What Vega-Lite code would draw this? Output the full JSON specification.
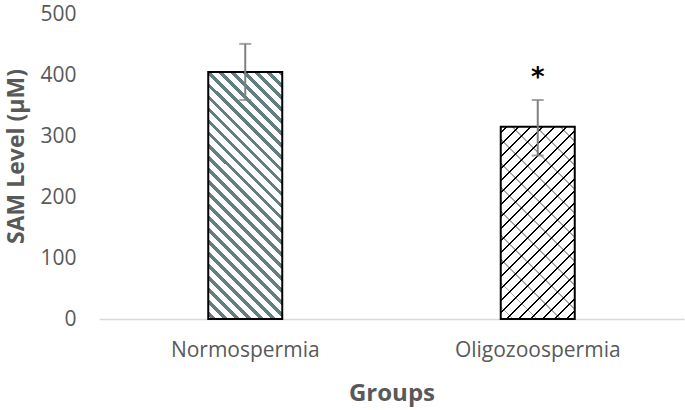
{
  "$schema": "https://vega.github.io/schema/vega-lite/v6.json",
  "width": 585,
  "height": 305,
  "autosize": "none",
  "padding": {"left": 99, "top": 14, "right": 1, "bottom": 91},
  "background": "white",
  "config": {
    "view": {"stroke": null},
    "font": "Open Sans",
    "axis": {"labelFont": "Open Sans", "titleFont": "Open Sans", "labelColor": "#595959", "titleColor": "#595959"}
  },
  "data": {
    "values": [
      {"group": "Normospermia", "sam": 405, "lower": 359, "upper": 451, "sig": ""},
      {"group": "Oligozoospermia", "sam": 315, "lower": 268, "upper": 359, "sig": "*"}
    ]
  },
  "encoding": {
    "x": {
      "field": "group", "type": "nominal", "sort": null,
      "scale": {"paddingInner": 0, "paddingOuter": 0},
      "axis": {"title": "Groups", "labelAngle": 0, "labelFontSize": 21, "labelPadding": 20, "ticks": false, "domainColor": "#D9D9D9", "domainWidth": 1.5, "titleFontSize": 24, "titleFontWeight": "bold", "titlePadding": 21}
    }
  },
  "layer": [
    {
      "transform": [{"filter": "datum.group === 'Normospermia'"}],
      "mark": {"type": "bar", "width": 74, "stroke": "black", "strokeWidth": 2,
        "fill": {"gradient": "linear", "x1": 0, "y1": 1, "x2": 0.357, "y2": -0.1925, "stops": [
          {"offset": 0, "color": "white"},
          {"offset": 0.01, "color": "white"}, {"offset": 0.01, "color": "#637F7F"}, {"offset": 0.025, "color": "#637F7F"}, {"offset": 0.025, "color": "white"},
          {"offset": 0.0475, "color": "white"}, {"offset": 0.0475, "color": "#637F7F"}, {"offset": 0.0625, "color": "#637F7F"}, {"offset": 0.0625, "color": "white"},
          {"offset": 0.085, "color": "white"}, {"offset": 0.085, "color": "#637F7F"}, {"offset": 0.1, "color": "#637F7F"}, {"offset": 0.1, "color": "white"},
          {"offset": 0.1225, "color": "white"}, {"offset": 0.1225, "color": "#637F7F"}, {"offset": 0.1375, "color": "#637F7F"}, {"offset": 0.1375, "color": "white"},
          {"offset": 0.16, "color": "white"}, {"offset": 0.16, "color": "#637F7F"}, {"offset": 0.175, "color": "#637F7F"}, {"offset": 0.175, "color": "white"},
          {"offset": 0.1975, "color": "white"}, {"offset": 0.1975, "color": "#637F7F"}, {"offset": 0.2125, "color": "#637F7F"}, {"offset": 0.2125, "color": "white"},
          {"offset": 0.235, "color": "white"}, {"offset": 0.235, "color": "#637F7F"}, {"offset": 0.25, "color": "#637F7F"}, {"offset": 0.25, "color": "white"},
          {"offset": 0.2725, "color": "white"}, {"offset": 0.2725, "color": "#637F7F"}, {"offset": 0.2875, "color": "#637F7F"}, {"offset": 0.2875, "color": "white"},
          {"offset": 0.31, "color": "white"}, {"offset": 0.31, "color": "#637F7F"}, {"offset": 0.325, "color": "#637F7F"}, {"offset": 0.325, "color": "white"},
          {"offset": 0.3475, "color": "white"}, {"offset": 0.3475, "color": "#637F7F"}, {"offset": 0.3625, "color": "#637F7F"}, {"offset": 0.3625, "color": "white"},
          {"offset": 0.385, "color": "white"}, {"offset": 0.385, "color": "#637F7F"}, {"offset": 0.4, "color": "#637F7F"}, {"offset": 0.4, "color": "white"},
          {"offset": 0.4225, "color": "white"}, {"offset": 0.4225, "color": "#637F7F"}, {"offset": 0.4375, "color": "#637F7F"}, {"offset": 0.4375, "color": "white"},
          {"offset": 0.46, "color": "white"}, {"offset": 0.46, "color": "#637F7F"}, {"offset": 0.475, "color": "#637F7F"}, {"offset": 0.475, "color": "white"},
          {"offset": 0.4975, "color": "white"}, {"offset": 0.4975, "color": "#637F7F"}, {"offset": 0.5125, "color": "#637F7F"}, {"offset": 0.5125, "color": "white"},
          {"offset": 0.535, "color": "white"}, {"offset": 0.535, "color": "#637F7F"}, {"offset": 0.55, "color": "#637F7F"}, {"offset": 0.55, "color": "white"},
          {"offset": 0.5725, "color": "white"}, {"offset": 0.5725, "color": "#637F7F"}, {"offset": 0.5875, "color": "#637F7F"}, {"offset": 0.5875, "color": "white"},
          {"offset": 0.61, "color": "white"}, {"offset": 0.61, "color": "#637F7F"}, {"offset": 0.625, "color": "#637F7F"}, {"offset": 0.625, "color": "white"},
          {"offset": 0.6475, "color": "white"}, {"offset": 0.6475, "color": "#637F7F"}, {"offset": 0.6625, "color": "#637F7F"}, {"offset": 0.6625, "color": "white"},
          {"offset": 0.685, "color": "white"}, {"offset": 0.685, "color": "#637F7F"}, {"offset": 0.7, "color": "#637F7F"}, {"offset": 0.7, "color": "white"},
          {"offset": 0.7225, "color": "white"}, {"offset": 0.7225, "color": "#637F7F"}, {"offset": 0.7375, "color": "#637F7F"}, {"offset": 0.7375, "color": "white"},
          {"offset": 0.76, "color": "white"}, {"offset": 0.76, "color": "#637F7F"}, {"offset": 0.775, "color": "#637F7F"}, {"offset": 0.775, "color": "white"},
          {"offset": 0.7975, "color": "white"}, {"offset": 0.7975, "color": "#637F7F"}, {"offset": 0.8125, "color": "#637F7F"}, {"offset": 0.8125, "color": "white"},
          {"offset": 0.835, "color": "white"}, {"offset": 0.835, "color": "#637F7F"}, {"offset": 0.85, "color": "#637F7F"}, {"offset": 0.85, "color": "white"},
          {"offset": 0.8725, "color": "white"}, {"offset": 0.8725, "color": "#637F7F"}, {"offset": 0.8875, "color": "#637F7F"}, {"offset": 0.8875, "color": "white"},
          {"offset": 0.91, "color": "white"}, {"offset": 0.91, "color": "#637F7F"}, {"offset": 0.925, "color": "#637F7F"}, {"offset": 0.925, "color": "white"},
          {"offset": 0.9475, "color": "white"}, {"offset": 0.9475, "color": "#637F7F"}, {"offset": 0.9625, "color": "#637F7F"}, {"offset": 0.9625, "color": "white"},
          {"offset": 0.985, "color": "white"}, {"offset": 0.985, "color": "#637F7F"}, {"offset": 1, "color": "#637F7F"}
        ]}},
      "encoding": {
        "y": {
          "field": "sam", "type": "quantitative",
          "scale": {"domain": [0, 500]},
          "axis": {"title": "SAM Level (µM)", "values": [0, 100, 200, 300, 400, 500], "grid": false, "domain": false, "ticks": false, "labelFontSize": 21, "labelPadding": 23, "titleFontSize": 23, "titleFontWeight": "bold", "titleX": -83, "titleY": 142, "titleAlign": "center", "titleBaseline": "middle", "titleAngle": -90}
        }
      }
    },
    {
      "transform": [{"filter": "datum.group === 'Oligozoospermia'"}],
      "mark": {"type": "bar", "width": 74,
        "fill": {"gradient": "linear", "x1": 0, "y1": 0, "x2": 0.4644, "y2": 1.2062, "stops": [
          {"offset": 0, "color": "white"},
          {"offset": 0.02, "color": "white"}, {"offset": 0.02, "color": "black"}, {"offset": 0.027, "color": "black"}, {"offset": 0.027, "color": "white"},
          {"offset": 0.065, "color": "white"}, {"offset": 0.065, "color": "black"}, {"offset": 0.072, "color": "black"}, {"offset": 0.072, "color": "white"},
          {"offset": 0.11, "color": "white"}, {"offset": 0.11, "color": "black"}, {"offset": 0.117, "color": "black"}, {"offset": 0.117, "color": "white"},
          {"offset": 0.155, "color": "white"}, {"offset": 0.155, "color": "black"}, {"offset": 0.162, "color": "black"}, {"offset": 0.162, "color": "white"},
          {"offset": 0.2, "color": "white"}, {"offset": 0.2, "color": "black"}, {"offset": 0.207, "color": "black"}, {"offset": 0.207, "color": "white"},
          {"offset": 0.245, "color": "white"}, {"offset": 0.245, "color": "black"}, {"offset": 0.252, "color": "black"}, {"offset": 0.252, "color": "white"},
          {"offset": 0.29, "color": "white"}, {"offset": 0.29, "color": "black"}, {"offset": 0.297, "color": "black"}, {"offset": 0.297, "color": "white"},
          {"offset": 0.335, "color": "white"}, {"offset": 0.335, "color": "black"}, {"offset": 0.342, "color": "black"}, {"offset": 0.342, "color": "white"},
          {"offset": 0.38, "color": "white"}, {"offset": 0.38, "color": "black"}, {"offset": 0.387, "color": "black"}, {"offset": 0.387, "color": "white"},
          {"offset": 0.425, "color": "white"}, {"offset": 0.425, "color": "black"}, {"offset": 0.432, "color": "black"}, {"offset": 0.432, "color": "white"},
          {"offset": 0.47, "color": "white"}, {"offset": 0.47, "color": "black"}, {"offset": 0.477, "color": "black"}, {"offset": 0.477, "color": "white"},
          {"offset": 0.515, "color": "white"}, {"offset": 0.515, "color": "black"}, {"offset": 0.522, "color": "black"}, {"offset": 0.522, "color": "white"},
          {"offset": 0.56, "color": "white"}, {"offset": 0.56, "color": "black"}, {"offset": 0.567, "color": "black"}, {"offset": 0.567, "color": "white"},
          {"offset": 0.605, "color": "white"}, {"offset": 0.605, "color": "black"}, {"offset": 0.612, "color": "black"}, {"offset": 0.612, "color": "white"},
          {"offset": 0.65, "color": "white"}, {"offset": 0.65, "color": "black"}, {"offset": 0.657, "color": "black"}, {"offset": 0.657, "color": "white"},
          {"offset": 0.695, "color": "white"}, {"offset": 0.695, "color": "black"}, {"offset": 0.702, "color": "black"}, {"offset": 0.702, "color": "white"},
          {"offset": 0.74, "color": "white"}, {"offset": 0.74, "color": "black"}, {"offset": 0.747, "color": "black"}, {"offset": 0.747, "color": "white"},
          {"offset": 0.785, "color": "white"}, {"offset": 0.785, "color": "black"}, {"offset": 0.792, "color": "black"}, {"offset": 0.792, "color": "white"},
          {"offset": 0.83, "color": "white"}, {"offset": 0.83, "color": "black"}, {"offset": 0.837, "color": "black"}, {"offset": 0.837, "color": "white"},
          {"offset": 0.875, "color": "white"}, {"offset": 0.875, "color": "black"}, {"offset": 0.882, "color": "black"}, {"offset": 0.882, "color": "white"},
          {"offset": 0.92, "color": "white"}, {"offset": 0.92, "color": "black"}, {"offset": 0.927, "color": "black"}, {"offset": 0.927, "color": "white"},
          {"offset": 0.965, "color": "white"}, {"offset": 0.965, "color": "black"}, {"offset": 0.972, "color": "black"}, {"offset": 0.972, "color": "white"},
          {"offset": 1, "color": "white"}
        ]}},
      "encoding": {"y": {"field": "sam", "type": "quantitative"}}
    },
    {
      "transform": [{"filter": "datum.group === 'Oligozoospermia'"}],
      "mark": {"type": "bar", "width": 74, "stroke": "black", "strokeWidth": 2,
        "fill": {"gradient": "linear", "x1": 0, "y1": 1, "x2": 0.4644, "y2": -0.2062, "stops": [
          {"offset": 0, "color": "rgba(0,0,0,0)"},
          {"offset": 0.0425, "color": "rgba(0,0,0,0)"}, {"offset": 0.0425, "color": "rgba(0,0,0,0.35)"}, {"offset": 0.0495, "color": "rgba(0,0,0,0.35)"}, {"offset": 0.0495, "color": "rgba(0,0,0,0)"},
          {"offset": 0.1325, "color": "rgba(0,0,0,0)"}, {"offset": 0.1325, "color": "rgba(0,0,0,0.35)"}, {"offset": 0.1395, "color": "rgba(0,0,0,0.35)"}, {"offset": 0.1395, "color": "rgba(0,0,0,0)"},
          {"offset": 0.2225, "color": "rgba(0,0,0,0)"}, {"offset": 0.2225, "color": "rgba(0,0,0,0.35)"}, {"offset": 0.2295, "color": "rgba(0,0,0,0.35)"}, {"offset": 0.2295, "color": "rgba(0,0,0,0)"},
          {"offset": 0.3125, "color": "rgba(0,0,0,0)"}, {"offset": 0.3125, "color": "rgba(0,0,0,0.35)"}, {"offset": 0.3195, "color": "rgba(0,0,0,0.35)"}, {"offset": 0.3195, "color": "rgba(0,0,0,0)"},
          {"offset": 0.4025, "color": "rgba(0,0,0,0)"}, {"offset": 0.4025, "color": "rgba(0,0,0,0.35)"}, {"offset": 0.4095, "color": "rgba(0,0,0,0.35)"}, {"offset": 0.4095, "color": "rgba(0,0,0,0)"},
          {"offset": 0.4925, "color": "rgba(0,0,0,0)"}, {"offset": 0.4925, "color": "rgba(0,0,0,0.35)"}, {"offset": 0.4995, "color": "rgba(0,0,0,0.35)"}, {"offset": 0.4995, "color": "rgba(0,0,0,0)"},
          {"offset": 0.5825, "color": "rgba(0,0,0,0)"}, {"offset": 0.5825, "color": "rgba(0,0,0,0.35)"}, {"offset": 0.5895, "color": "rgba(0,0,0,0.35)"}, {"offset": 0.5895, "color": "rgba(0,0,0,0)"},
          {"offset": 0.6725, "color": "rgba(0,0,0,0)"}, {"offset": 0.6725, "color": "rgba(0,0,0,0.35)"}, {"offset": 0.6795, "color": "rgba(0,0,0,0.35)"}, {"offset": 0.6795, "color": "rgba(0,0,0,0)"},
          {"offset": 0.7625, "color": "rgba(0,0,0,0)"}, {"offset": 0.7625, "color": "rgba(0,0,0,0.35)"}, {"offset": 0.7695, "color": "rgba(0,0,0,0.35)"}, {"offset": 0.7695, "color": "rgba(0,0,0,0)"},
          {"offset": 0.8525, "color": "rgba(0,0,0,0)"}, {"offset": 0.8525, "color": "rgba(0,0,0,0.35)"}, {"offset": 0.8595, "color": "rgba(0,0,0,0.35)"}, {"offset": 0.8595, "color": "rgba(0,0,0,0)"},
          {"offset": 0.9425, "color": "rgba(0,0,0,0)"}, {"offset": 0.9425, "color": "rgba(0,0,0,0.35)"}, {"offset": 0.9495, "color": "rgba(0,0,0,0.35)"}, {"offset": 0.9495, "color": "rgba(0,0,0,0)"},
          {"offset": 1, "color": "rgba(0,0,0,0)"}
        ]}},
      "encoding": {"y": {"field": "sam", "type": "quantitative"}}
    },
    {
      "mark": {"type": "rule", "color": "#7F7F7F", "strokeWidth": 2},
      "encoding": {"y": {"field": "lower", "type": "quantitative"}, "y2": {"field": "upper"}}
    },
    {
      "mark": {"type": "tick", "color": "#7F7F7F", "thickness": 2, "size": 12, "orient": "horizontal"},
      "encoding": {"y": {"field": "upper", "type": "quantitative"}}
    },
    {
      "mark": {"type": "tick", "color": "#7F7F7F", "thickness": 2, "size": 12, "orient": "horizontal"},
      "encoding": {"y": {"field": "lower", "type": "quantitative"}}
    },
    {
      "mark": {"type": "text", "fontSize": 26, "fontWeight": "bold", "color": "black", "baseline": "middle", "dy": -22, "font": "DejaVu Sans"},
      "encoding": {"y": {"field": "upper", "type": "quantitative"}, "text": {"field": "sig"}}
    }
  ]
}
